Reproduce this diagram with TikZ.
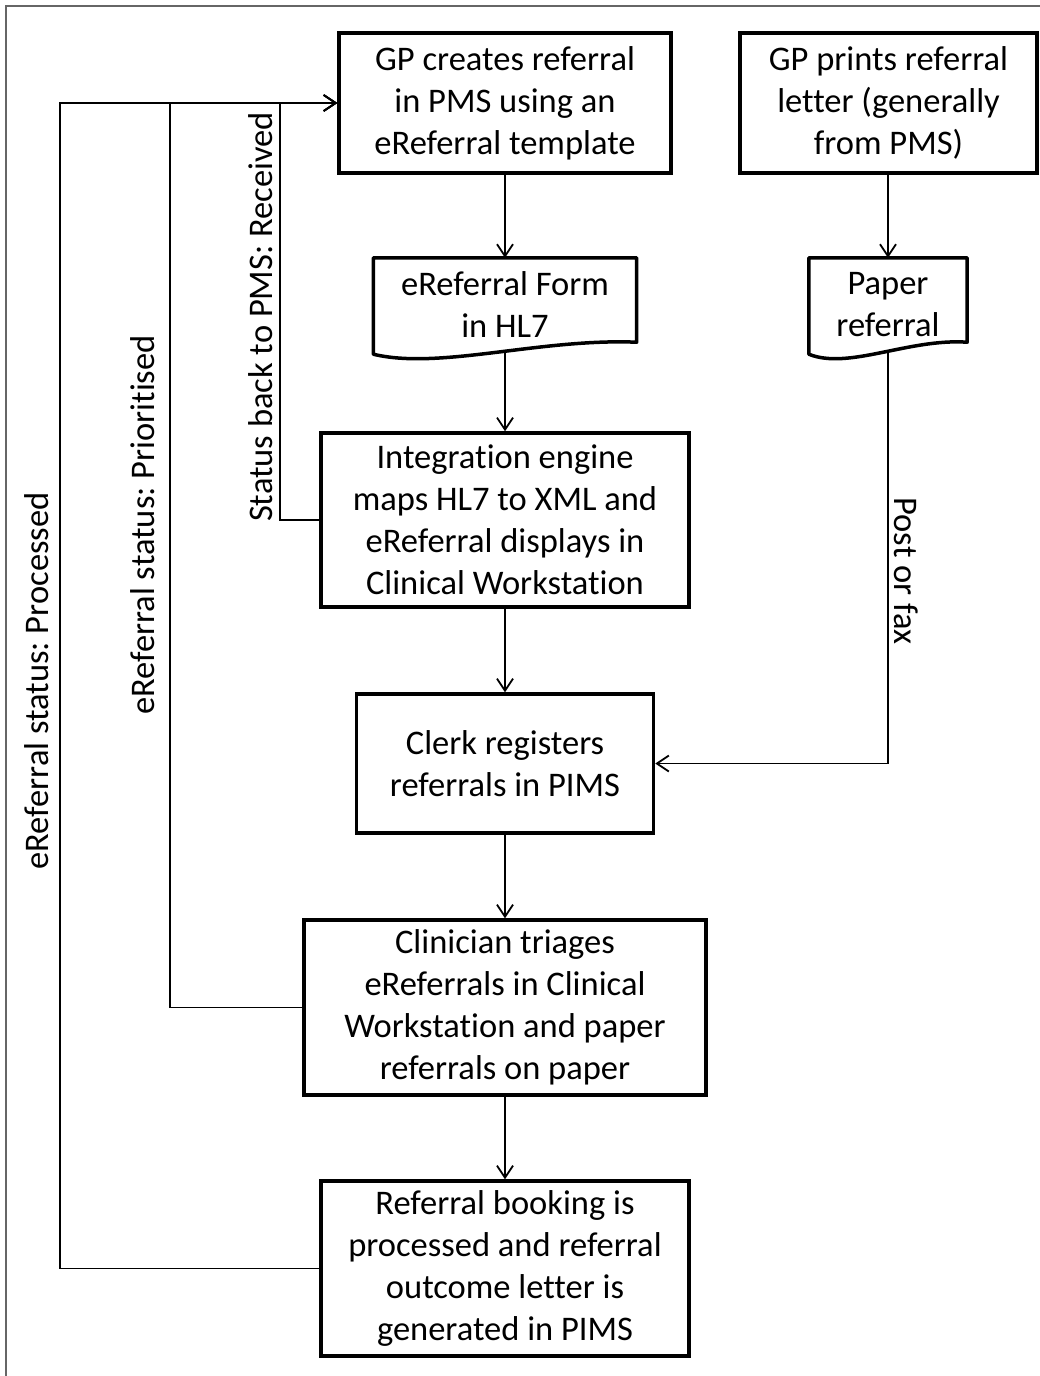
\documentclass[tikz,border=0pt]{standalone}
\usepackage{fontspec}
\setmainfont[Ligatures={NoCommon,NoContextual}, RawFeature={-calt;-rlig}]{Carlito}
\usetikzlibrary{positioning, calc, arrows.meta}

% outline of a document node: straight top and sides, wavy bottom
\newcommand{\docshape}[1]{%
  \draw[line width=3.5pt, line join=round]
    ($(#1.south west)+(0,3)$) -- (#1.north west) -- (#1.north east) -- ($(#1.south east)+(0,-9)$)
    .. controls ($(#1.south west)!0.63!(#1.south east)+(0,-13)$) and ($(#1.south west)!0.25!(#1.south east)+(0,19)$)
    .. ($(#1.south west)+(0,3)$) -- cycle;}

\begin{document}
\frenchspacing
\begin{tikzpicture}[x=1pt, y=-1pt,
    font=\fontsize{34.5}{42}\selectfont,
    box/.style={draw, line width=3.5pt, align=center, inner sep=0pt},
    doc/.style={align=center, inner sep=0pt},
    conn/.style={line width=1.8pt, -{Straight Barb[length=12pt,width=16pt]}},
    lbl/.style={inner sep=0pt}]
  \useasboundingbox (0,0) rectangle (1040,1376);
  \draw[black!60, line width=1.5pt] (6,1400) -- (6,6) -- (1060,6);

  % main column
  \node[box, minimum width=332pt, minimum height=140pt] (gpcreate) at (505,103)
    {GP creates referral\\in PMS using an\\eReferral template};
  \node[doc, minimum width=263pt, minimum height=93pt] (form) at (505,304.5)
    {eReferral Form\\in HL7};
  \docshape{form}
  \node[box, minimum width=368pt, minimum height=174pt] (engine) at (505,520)
    {Integration engine\\maps HL7 to XML and\\eReferral displays in\\Clinical Workstation};
  \node[box, minimum width=297pt, minimum height=139pt] (clerk) at (505,763.5)
    {Clerk registers\\referrals in PIMS};
  \node[box, minimum width=402pt, minimum height=175pt] (triage) at (505,1007.5)
    {Clinician triages\\eReferrals in Clinical\\Workstation and paper\\referrals on paper};
  \node[box, minimum width=368pt, minimum height=175pt] (booking) at (505,1268.5)
    {Referral booking is\\processed and referral\\outcome letter is\\generated in PIMS};

  % paper column
  \node[box, minimum width=297pt, minimum height=140pt] (gpprint) at (888.5,103)
    {GP prints referral\\letter (generally\\from PMS)};
  \node[doc, minimum width=158pt, minimum height=93pt] (paper) at (888,304.5)
    {Paper\\referral};
  \docshape{paper}

  \draw[conn] (gpcreate) -- (form);
  \draw[conn] (form) -- (engine);
  \draw[conn] (engine) -- (clerk);
  \draw[conn] (clerk) -- (triage);
  \draw[conn] (triage) -- (booking);
  \draw[conn] (paper.north |- gpprint.south) -- (paper.north);
  \draw[conn] (paper.south) |- (clerk.east);

  % status feedback
  \draw[conn] (engine.west) -- ++(-39,0) |- (gpcreate.west);
  \draw[conn] (triage.west) -- ++(-132,0) |- (gpcreate.west);
  \draw[conn] (booking.west) -- ++(-259,0) |- (gpcreate.west);

  \node[lbl, rotate=90] (received) at (261,317) {Status back to PMS: Received};
  \node[lbl, rotate=90] (prioritised) at (143,525) {eReferral status: Prioritised};
  \node[lbl, rotate=90] (processed) at (37,681) {eReferral status: Processed};
  \node[lbl, rotate=-90] (postfax) at (906,571) {Post or fax};
\end{tikzpicture}
\end{document}
